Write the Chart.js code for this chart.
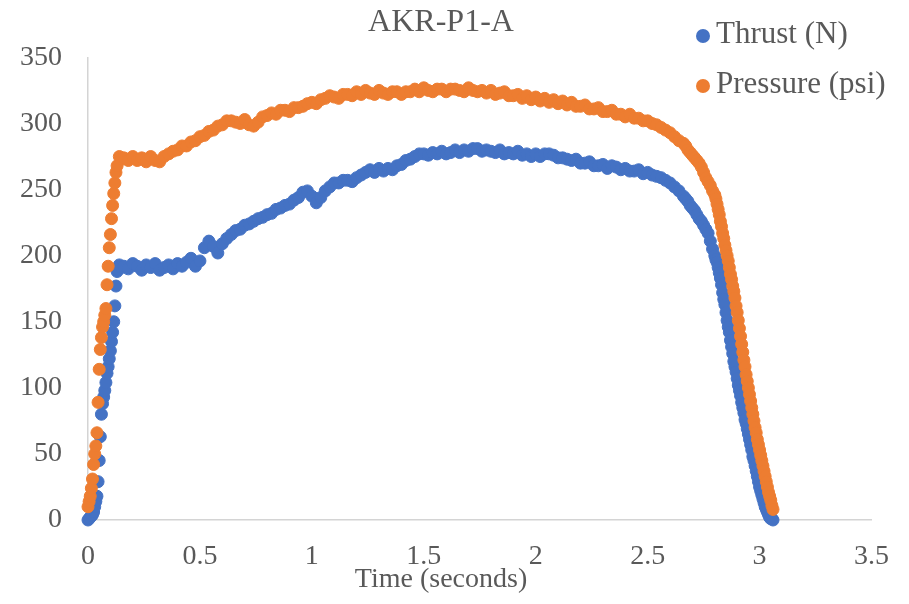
<!DOCTYPE html>
<html>
<head>
<meta charset="utf-8">
<title>AKR-P1-A</title>
<script src="https://cdn.jsdelivr.net/npm/chart.js@4.4.1/dist/chart.umd.min.js"></script>
<style>
  html,body{margin:0;padding:0;background:#fff;}
  #wrap{width:909px;height:604px;}
</style>
</head>
<body>
<div id="wrap"><canvas id="akr-chart" width="909" height="604"></canvas></div>
<script>
/* AKR-P1-A motor test: thrust and chamber pressure vs time */

// sample times (s)
const times = [
  0,0.005,0.01,0.015,0.02,0.025,0.03,0.035,0.04,0.045,
  0.05,0.055,0.06,0.065,0.07,0.075,0.08,0.085,0.09,0.095,
  0.1,0.105,0.11,0.115,0.12,0.125,0.13,0.14,0.15,
  0.16,0.18,0.20,0.22,0.24,0.26,0.28,0.30,0.32,0.34,
  0.36,0.38,0.40,0.42,0.44,0.46,0.48,0.50,0.52,0.54,
  0.56,0.58,0.60,0.62,0.64,0.66,0.68,0.70,0.72,0.74,
  0.76,0.78,0.80,0.82,0.84,0.86,0.88,0.90,0.92,0.94,
  0.96,0.98,1.00,1.02,1.04,1.06,1.08,1.10,1.12,1.14,
  1.16,1.18,1.20,1.22,1.24,1.26,1.28,1.30,1.32,1.34,
  1.36,1.38,1.40,1.42,1.44,1.46,1.48,1.50,1.52,1.54,
  1.56,1.58,1.60,1.62,1.64,1.66,1.68,1.70,1.72,1.74,
  1.76,1.78,1.80,1.82,1.84,1.86,1.88,1.90,1.92,1.94,
  1.96,1.98,2.00,2.02,2.04,2.06,2.08,2.10,2.12,2.14,
  2.16,2.18,2.20,2.22,2.24,2.26,2.28,2.30,2.32,2.34,
  2.36,2.38,2.40,2.42,2.44,2.46,2.48,2.50,2.52,2.54,
  2.56,2.58,2.60,2.62,2.64,2.66,
  2.67,2.68,2.69,2.70,2.71,2.72,2.73,2.74,2.75,2.76,2.77,2.78,2.79,
  2.8,2.805,2.81,2.815,2.82,2.825,2.83,2.835,2.84,2.845,
  2.85,2.855,2.86,2.865,2.87,2.875,2.88,2.885,2.89,2.895,
  2.9,2.905,2.91,2.915,2.92,2.925,2.93,2.935,2.94,2.945,
  2.95,2.955,2.96,2.965,2.97,2.975,2.98,2.985,2.99,2.995,
  3,3.005,3.01,3.015,3.02,3.025,3.03,3.035,3.04,3.045,
  3.05,3.055,3.06
];

// thrust (N)
const thrust = [
  0,1,2,3,4,6,10,14,18,29,
  45,63,80,88,93,98,104,111,116,122,
  128,135,142,150,162,177,188,193,191,
  192,190,194,192,189,193,191,194,189,191,
  193,190,194,192,195,198,192,196,206,211,
  207,202,209,213,216,219,220,223,224,226,
  228,229,231,232,235,236,238,239,242,244,
  248,249,245,240,244,249,252,255,255,257,
  257,256,259,261,263,265,263,266,264,266,
  265,268,269,272,273,275,277,277,276,278,
  277,279,277,278,280,278,280,279,281,281,
  279,280,279,278,280,277,278,277,279,276,
  277,275,277,275,277,277,276,274,274,273,
  272,273,270,270,271,268,268,269,266,268,
  267,265,266,264,264,265,262,263,261,260,
  259,257,255,252,249,245,
  243,241,238,236,234,231,228,226,223,220,217,211,205,
  200,197,195,191,187,183,178,172,167,163,
  157,151,146,142,136,131,126,120,116,112,
  107,102,98,94,89,85,81,76,73,69,
  65,61,57,53,48,45,41,37,33,29,
  25,22,19,16,13,10,8,6,4,2,
  1,1,0
];

// chamber pressure (psi)
const pressure = [
  10,14,18,24,31,42,50,56,66,89,
  114,129,138,146,150,155,160,178,192,206,
  216,228,238,247,255,263,268,275,273,
  274,272,275,272,274,271,275,272,271,275,
  277,279,280,283,283,286,287,290,291,294,
  295,298,299,302,302,301,300,303,299,298,
  301,305,306,308,307,310,310,309,312,312,
  313,315,316,315,318,319,321,320,319,322,
  322,321,324,322,325,323,322,325,323,322,
  324,324,322,324,324,326,324,327,325,324,
  326,326,324,326,326,325,324,327,325,324,
  325,323,325,322,323,324,321,321,322,319,
  321,318,320,317,319,316,318,315,317,314,
  316,313,313,314,311,311,312,309,309,310,
  307,307,305,307,304,304,302,302,300,299,
  297,295,293,290,287,285,
  283,280,278,276,274,272,270,267,263,259,256,253,249,
  246,243,239,235,231,226,222,217,213,208,
  204,200,196,191,186,182,177,173,168,162,
  157,151,145,139,133,127,121,116,110,105,
  100,95,90,85,80,75,70,66,61,57,
  53,49,45,41,37,33,29,25,21,18,
  15,11,8
];

const seriesNames = ['Thrust (N)', 'Pressure (psi)'];
const seriesColors = ['#4472C4', '#ED7D31'];

const SERIF = '"Liberation Serif", "Times New Roman", serif';
const TEXT = '#595959';

// legend drawn at the top right, over the plot like the Excel original
const cornerLegend = {
  id: 'cornerLegend',
  afterDraw(chart) {
    const ctx = chart.ctx;
    ctx.save();
    ctx.font = '31px ' + SERIF;
    ctx.textBaseline = 'middle';
    ctx.textAlign = 'left';
    chart.data.datasets.forEach(function(ds, i) {
      const y = 35 + i * 50;
      ctx.fillStyle = ds.backgroundColor;
      ctx.beginPath();
      ctx.arc(703, y + 1, 7, 0, Math.PI * 2);
      ctx.fill();
      ctx.fillStyle = TEXT;
      ctx.fillText(ds.label, 716, y);
    });
    ctx.restore();
  }
};

function toPoints(vals) {
  return times.map(function(t, i) { return {x: t, y: vals[i]}; });
}

Chart.defaults.font.family = SERIF;
Chart.defaults.color = TEXT;

new Chart(document.getElementById('akr-chart'), {
  type: 'scatter',
  data: {
    datasets: [
      {label: seriesNames[0], data: toPoints(thrust), backgroundColor: seriesColors[0], borderColor: seriesColors[0],
       pointRadius: 6, borderWidth: 1, order: 2, clip: false},
      {label: seriesNames[1], data: toPoints(pressure), backgroundColor: seriesColors[1], borderColor: seriesColors[1],
       pointRadius: 6, borderWidth: 1, order: 1, clip: false}
    ]
  },
  options: {
    responsive: false,
    animation: false,
    layout: {padding: {top: 0, right: 27, bottom: 0, left: 0}},
    scales: {
      x: {
        type: 'linear', min: 0, max: 3.5,
        grid: {display: false, drawTicks: false},
        border: {display: true, color: '#d4d4d4', width: 1.5},
        ticks: {stepSize: 0.5, padding: 20, font: {size: 28}, color: TEXT, maxRotation: 0,
          callback: function(v) { return String(v); }},
        afterFit: function(s) { s.height = 46; }
      },
      y: {
        type: 'linear', min: 0, max: 350,
        grid: {display: false, drawTicks: false},
        border: {display: true, color: '#d4d4d4', width: 1.5},
        ticks: {stepSize: 50, padding: 26, font: {size: 28}, color: TEXT},
        afterFit: function(s) { s.width = 88; }
      }
    },
    plugins: {
      legend: {display: false},
      tooltip: {enabled: false},
      title: {display: true, text: 'AKR-P1-A', color: TEXT,
        font: {size: 32, weight: 'normal'}, padding: {top: 3, bottom: 16}},
      subtitle: {display: true, position: 'bottom', text: 'Time (seconds)', color: TEXT,
        font: {size: 28, weight: 'normal', lineHeight: 1}, padding: {top: 0, bottom: 10}}
    }
  },
  plugins: [cornerLegend]
});
</script>
</body>
</html>
